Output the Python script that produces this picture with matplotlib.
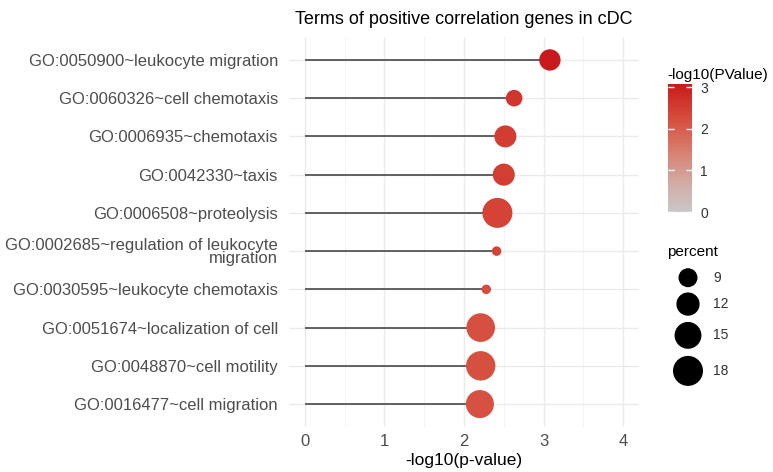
import numpy as np
import matplotlib
matplotlib.use("Agg")
import matplotlib.pyplot as plt
from matplotlib.colors import LinearSegmentedColormap, Normalize

plt.rcParams['font.family'] = ['Liberation Sans', 'DejaVu Sans']

# GO terms, top to bottom
terms = [
    "GO:0050900~leukocyte migration",
    "GO:0060326~cell chemotaxis",
    "GO:0006935~chemotaxis",
    "GO:0042330~taxis",
    "GO:0006508~proteolysis",
    "GO:0002685~regulation of leukocyte\nmigration",
    "GO:0030595~leukocyte chemotaxis",
    "GO:0051674~localization of cell",
    "GO:0048870~cell motility",
    "GO:0016477~cell migration",
]
logp = [3.08, 2.63, 2.52, 2.50, 2.42, 2.41, 2.28, 2.21, 2.21, 2.20]
percent = [10.6, 7.6, 11.1, 11.1, 18.0, 4.5, 4.5, 16.7, 17.4, 16.1]

size_breaks = [9, 12, 15, 18]
cbar_ticks = [0, 1, 2, 3]

W, H = 773, 472
DPI = 100


def radius_px(v):
    # ggplot-like area scaling
    return np.sqrt(np.maximum(15 * np.asarray(v, float) - 45, 4))


def marker_area(v):
    d_pt = 2 * radius_px(v) * 72 / DPI
    return d_pt ** 2


cmap = LinearSegmentedColormap.from_list(
    "greyred", ["#C9C9C9", "#D3A8A0", "#D87A6A", "#D64A3B", "#C81A1C"])
norm = Normalize(vmin=0, vmax=max(logp))

fig = plt.figure(figsize=(W / DPI, H / DPI), dpi=DPI)
ax = fig.add_axes([289 / W, 1 - 427 / H, 350 / W, 390 / H])

ypos = np.arange(len(terms))[::-1]
ax.hlines(ypos, 0, logp, color="#555555", lw=1.3, zorder=2)
ax.scatter(logp, ypos, s=marker_area(percent), c=logp, cmap=cmap, norm=norm,
           edgecolors="none", zorder=3)

ax.set_xlim(-0.2, 4.2)
ax.set_ylim(-0.6, len(terms) - 0.4)
ax.set_xticks([0, 1, 2, 3, 4])
ax.set_xticks([0.5, 1.5, 2.5, 3.5], minor=True)
ax.set_yticks(ypos)
ax.set_yticklabels(terms, fontsize=12, color="#4D4D4D", linespacing=0.9)
ax.tick_params(axis="x", labelsize=12, labelcolor="#4D4D4D", length=0, pad=5)
ax.tick_params(axis="y", length=0, pad=8)
ax.tick_params(which="minor", length=0)
ax.grid(which="major", color="#EBEBEB", lw=1.0)
ax.grid(which="minor", axis="x", color="#F2F2F2", lw=0.6)
ax.set_axisbelow(True)
for sp in ax.spines.values():
    sp.set_visible(False)
ax.set_xlabel("-log10(p-value)", fontsize=12.5, labelpad=3)
ax.set_title("Terms of positive correlation genes in cDC", fontsize=13, pad=9)

# colour bar
cax = fig.add_axes([668 / W, 1 - 212 / H, 24 / W, 128 / H])
sm = plt.cm.ScalarMappable(norm=norm, cmap=cmap)
cb = fig.colorbar(sm, cax=cax, ticks=cbar_ticks)
cb.outline.set_visible(False)
cax.tick_params(direction="in", length=4, color="white", width=1,
                left=True, right=True, labelsize=10, labelcolor="#333333", pad=6)
fig.text(667 / W, 1 - 75 / H, "-log10(PValue)", fontsize=11, va="center", ha="left")

# size legend
lax = fig.add_axes([0, 0, 1, 1])
lax.set_xlim(0, W)
lax.set_ylim(H, 0)
lax.axis("off")
fig.text(667 / W, 1 - 252 / H, "percent", fontsize=11, va="center", ha="left")
r = radius_px(size_breaks)
ys = [277.7]
for i in range(1, len(size_breaks)):
    ys.append(ys[-1] + (r[i - 1] + r[i]) * 1.25)
lax.scatter([688] * len(size_breaks), ys, s=marker_area(size_breaks),
            c="black", edgecolors="none")
for yy, v in zip(ys, size_breaks):
    lax.text(713, yy, str(v), fontsize=10, va="center", ha="left", color="#333333")

fig.savefig("out.png", dpi=DPI)
